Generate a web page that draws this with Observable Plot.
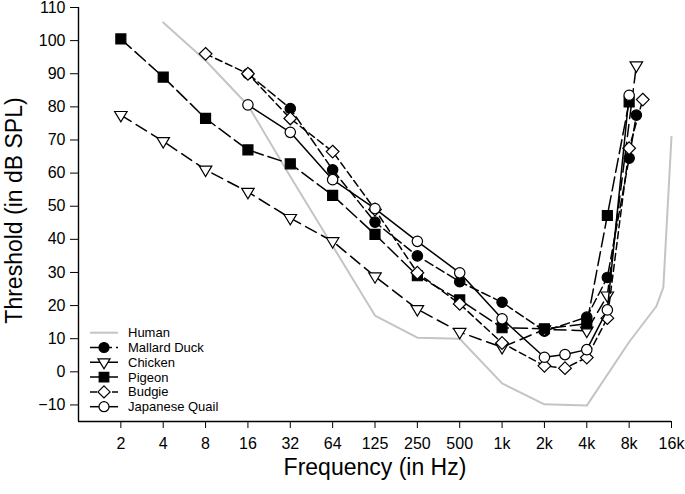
<!DOCTYPE html>
<html>
<head>
<meta charset="utf-8">
<script src="https://cdn.jsdelivr.net/npm/d3@7"></script>
<script src="https://cdn.jsdelivr.net/npm/@observablehq/plot@0.6"></script>
<style>
  body { margin: 0; background: #fff; }
  #wrap { position: relative; width: 685px; height: 494px; font-family: "Liberation Sans", Arial, sans-serif; }
  #legend { position: absolute; left: 0; top: 0; pointer-events: none; }
</style>
</head>
<body>
<div id="wrap"></div>
<script>
// ---- data ----
const xTicks = [2, 4, 8, 16, 32, 64, 128, 256, 512, 1024, 2048, 4096, 8192, 16384];
const xTickLabels = ["2", "4", "8", "16", "32", "64", "125", "250", "500", "1k", "2k", "4k", "8k", "16k"];
const yTicks = [-10, 0, 10, 20, 30, 40, 50, 60, 70, 80, 90, 100, 110];

const humanFreq = [4, 8, 16, 32, 64, 125, 250, 500, 1000, 2000, 4000, 8000, 12500, 14000, 16000];
const humanDb   = [105.5, 94, 80.5, 59, 38, 17, 10.3, 10, -3.5, -9.8, -10.2, 9, 19.8, 25.5, 71];

const mallardFreq = [16, 32, 64, 125, 250, 500, 1000, 2000, 4000, 5600, 8000, 9000];
const mallardDb   = [90, 79.5, 61, 45.2, 35, 27.2, 21, 12.3, 16.5, 28.5, 64.5, 77.5];

const chickenFreq = [2, 4, 8, 16, 32, 64, 125, 250, 500, 1000, 2000, 4000, 5600, 9000];
const chickenDb   = [77.5, 69.6, 61, 54.3, 46.4, 39.4, 28.8, 18.9, 12, 7.4, 12.8, 12.4, 23, 92.5];

const pigeonFreq = [2, 4, 8, 16, 32, 64, 125, 250, 500, 1000, 2000, 4000, 5600, 8000];
const pigeonDb   = [100.5, 89, 76.5, 67, 62.8, 53.3, 41.5, 29, 21.7, 13.3, 13, 14.5, 47.2, 81.5];

const budgieFreq = [8, 16, 32, 64, 125, 250, 500, 1000, 2000, 2800, 4000, 5600, 8000, 10000];
const budgieDb   = [96, 90, 76.5, 66.5, 49, 29.9, 20.5, 8.7, 1.8, 1.1, 4.3, 16.2, 67.5, 82.2];

const quailFreq = [16, 32, 64, 125, 250, 500, 1000, 2000, 2800, 4000, 5600, 8000];
const quailDb   = [80.6, 72.3, 58, 49.3, 39.4, 29.9, 16, 4.4, 5.2, 6.7, 18.7, 83.5];

// nominal frequency -> plotted binary-octave position (125 Hz sits at 2^7, 1k at 2^10 ...)
const pos = f => (f <= 64 ? f : f * 1.024);
const toRows = (fs, vs) => fs.map((f, i) => ({x: pos(f), y: vs[i]}));

// ---- symbols ----
const symSquare = {draw(ctx, size) { const s = Math.sqrt(size / Math.PI) * 0.96; ctx.rect(-s, -s, 2 * s, 2 * s); }};
const symDiamond = {draw(ctx, size) { const s = Math.sqrt(size / Math.PI) * 1.22; ctx.moveTo(0, -s); ctx.lineTo(s, 0); ctx.lineTo(0, s); ctx.lineTo(-s, 0); ctx.closePath(); }};
const symTriDown = {draw(ctx, size) { const r = Math.sqrt(size / Math.PI); const w = r * 1.2; ctx.moveTo(-w, -r * 0.7); ctx.lineTo(w, -r * 0.7); ctx.lineTo(0, r * 1.3); ctx.closePath(); }};

const series = [
  {name: "Mallard Duck", rows: toRows(mallardFreq, mallardDb), dash: "9,4", symbol: "circle", fill: "black"},
  {name: "Chicken", rows: toRows(chickenFreq, chickenDb), dash: "12,6", symbol: symTriDown, fill: "white"},
  {name: "Pigeon", rows: toRows(pigeonFreq, pigeonDb), dash: "14,5", symbol: symSquare, fill: "black"},
  {name: "Budgie", rows: toRows(budgieFreq, budgieDb), dash: "7,4", symbol: symDiamond, fill: "white"},
  {name: "Japanese Quail", rows: toRows(quailFreq, quailDb), dash: null, symbol: "circle", fill: "white"}
];
const humanRows = toRows(humanFreq, humanDb);
const humanColor = "#c4c4c4";

const marks = [
  Plot.line(humanRows, {x: "x", y: "y", stroke: humanColor, strokeWidth: 2})
];
for (const s of series) {
  marks.push(Plot.line(s.rows, {x: "x", y: "y", stroke: "black", strokeWidth: 1.5, strokeDasharray: s.dash || undefined}));
  marks.push(Plot.dot(s.rows, {x: "x", y: "y", r: 5.2, symbol: s.symbol, fill: s.fill, stroke: "black", strokeWidth: 1.2}));
}
marks.push(Plot.ruleX([1], {stroke: "black", strokeWidth: 1.4}));
marks.push(Plot.ruleY([-15], {stroke: "black", strokeWidth: 1.4}));
marks.push(Plot.text(["Frequency (in Hz)"], {frameAnchor: "bottom", lineAnchor: "middle", textAnchor: "middle", dy: 46, fontSize: 23, fill: "black"}));
marks.push(Plot.text(["Threshold (in dB SPL)"], {frameAnchor: "left", lineAnchor: "middle", textAnchor: "middle", dx: -64, dy: -4, rotate: -90, fontSize: 23, fill: "black"}));

const chart = Plot.plot({
  width: 685,
  height: 494,
  marginLeft: 78,
  marginRight: 14,
  marginTop: 7,
  marginBottom: 73,
  style: {fontFamily: "'Liberation Sans', Arial, sans-serif", fontSize: "16px", color: "black", background: "white", overflow: "visible"},
  x: {type: "log", base: 2, domain: [1, 16384], ticks: xTicks, tickFormat: d => xTickLabels[xTicks.indexOf(d)], tickSize: 7, tickPadding: 9, label: null},
  y: {domain: [-15, 110], ticks: yTicks, tickSize: 8, tickPadding: 5, label: null},
  marks
});
const wrap = document.getElementById("wrap");
wrap.appendChild(chart);

// ---- legend (overlay) ----
const legendItems = [{name: "Human", human: true}, ...series];
const lg = d3.select(wrap).append("svg").attr("id", "legend").attr("width", 685).attr("height", 494);
const symPath = (sym, r) => {
  const t = typeof sym === "string" ? d3.symbolCircle : sym;
  return d3.symbol(t, Math.PI * r * r)();
};
legendItems.forEach((it, i) => {
  const y = 332.7 + i * 14.8;
  const g = lg.append("g").attr("transform", `translate(0,${y})`);
  if (it.human) {
    g.append("line").attr("x1", 90).attr("x2", 118).attr("stroke", humanColor).attr("stroke-width", 2);
  } else {
    g.append("line").attr("x1", 90).attr("x2", 118).attr("stroke", "black").attr("stroke-width", 1.5)
      .attr("stroke-dasharray", it.dash || null);
    g.append("path").attr("transform", "translate(104,0)").attr("d", symPath(it.symbol, 5))
      .attr("fill", it.fill).attr("stroke", "black").attr("stroke-width", 1.2);
  }
  g.append("text").attr("x", 128).attr("dy", "0.35em").attr("font-size", 13)
    .attr("font-family", "'Liberation Sans', Arial, sans-serif").attr("fill", "black").text(it.name);
});
</script>
</body>
</html>
